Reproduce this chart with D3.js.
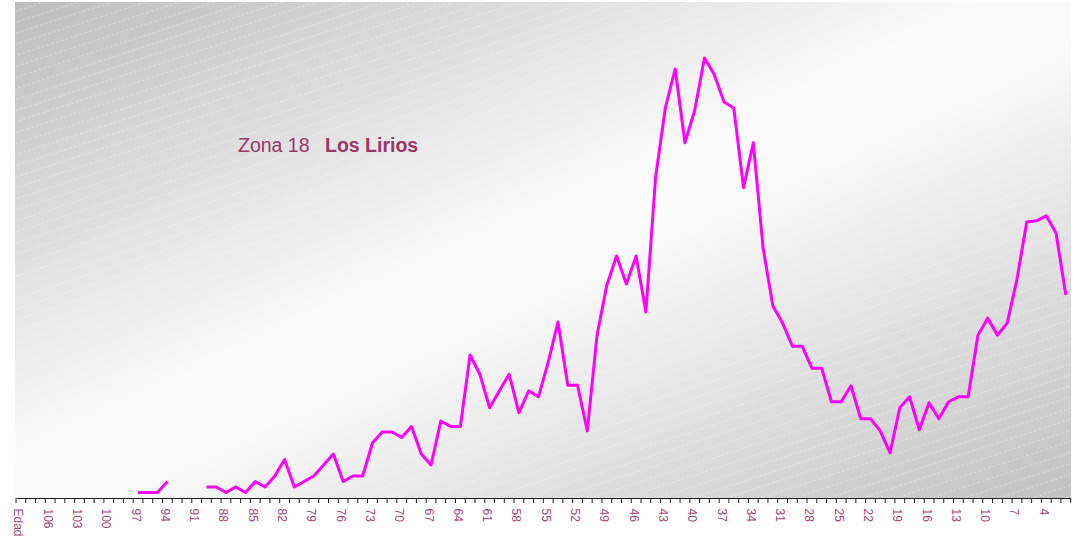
<!DOCTYPE html>
<html>
<head>
<meta charset="utf-8">
<script src="https://cdn.jsdelivr.net/npm/d3@7"></script>
<style>
  html, body { margin: 0; padding: 0; background: #ffffff; }
  svg { display: block; }
</style>
</head>
<body>
<svg id="chart" width="1086" height="543"></svg>
<script>
// ---- data ----
const titleZone = "Zona 18";
const titleName = "Los Lirios";
const firstCategory = "Edad";
const ages = [108,107,106,105,104,103,102,101,100,99,98,97,96,95,94,93,92,91,90,89,88,87,86,85,84,83,82,81,80,79,78,77,76,75,74,73,72,71,70,69,68,67,66,65,64,63,62,61,60,59,58,57,56,55,54,53,52,51,50,49,48,47,46,45,44,43,42,41,40,39,38,37,36,35,34,33,32,31,30,29,28,27,26,25,24,23,22,21,20,19,18,17,16,15,14,13,12,11,10,9,8,7,6,5,4,3,2];
const values = [null,null,null,null,null,null,null,null,null,null,null,1,1,1,3,null,null,null,2,2,1,2,1,3,2,4,7,2,3,4,6,8,3,4,4,10,12,12,11,13,8,6,14,13,13,26,22.5,16.4,19.5,22.5,15.5,19.5,18.4,24.7,32,20.5,20.5,12.2,29.6,38.7,44,38.9,44,33.8,58.4,71,78,64.6,70.5,80,77,72,70.9,56.4,64.6,45.5,34.9,31.8,27.6,27.6,23.6,23.6,17.5,17.5,20.4,14.4,14.4,12.2,8.2,16.4,18.4,12.4,17.3,14.4,17.5,18.4,18.4,29.6,32.7,29.6,31.8,39.8,50.2,50.4,51.3,48.2,36.9];
const yMax = 90;
const labelEvery = 3;

const categories = [firstCategory].concat(ages.map(String));
const series = categories.map((c, i) => ({ cat: c, v: i === 0 ? null : values[i - 1] }));

// ---- layout ----
const svg = d3.select("#chart");
const plot = { left: 15, right: 1071, top: 2, bottom: 498 };
const axisStart = 16, axisEnd = 1070.7;

const x = d3.scaleBand().domain(categories).range([axisStart, axisEnd]).padding(0);
const y = d3.scaleLinear().domain([0, yMax]).range([plot.bottom, plot.bottom - yMax * 5.5]);

const defs = svg.append("defs");
const grad = defs.append("linearGradient").attr("id", "bg")
  .attr("x1", "0").attr("y1", "0").attr("x2", "1").attr("y2", "1");
grad.append("stop").attr("offset", "0").attr("stop-color", "#bdbdbd");
grad.append("stop").attr("offset", "0.47").attr("stop-color", "#fbfbfb");
grad.append("stop").attr("offset", "0.53").attr("stop-color", "#fbfbfb");
grad.append("stop").attr("offset", "1").attr("stop-color", "#c1c1c1");

const pat = defs.append("pattern").attr("id", "hatch")
  .attr("patternUnits", "userSpaceOnUse").attr("width", 10).attr("height", 10.5)
  .attr("patternTransform", "rotate(-18)");
pat.append("line").attr("x1", 0).attr("x2", 10).attr("y1", 5).attr("y2", 5)
  .attr("stroke", "#ffffff").attr("stroke-opacity", 0.4).attr("stroke-width", 1)
  .attr("stroke-dasharray", "3,2");

svg.append("rect").attr("x", plot.left).attr("y", plot.top)
  .attr("width", plot.right - plot.left).attr("height", plot.bottom - plot.top)
  .attr("fill", "url(#bg)");
svg.append("rect").attr("x", plot.left).attr("y", plot.top)
  .attr("width", plot.right - plot.left).attr("height", plot.bottom - plot.top)
  .attr("fill", "url(#hatch)");

// ---- title ----
const title = svg.append("text").attr("x", 238).attr("y", 152)
  .attr("font-family", "Liberation Sans, Arial, sans-serif").attr("font-size", 19.5)
  .attr("fill", "#9a3668");
title.append("tspan").text(titleZone);
title.append("tspan").attr("x", 325).attr("font-weight", "bold").text(titleName);

// ---- line ----
const line = d3.line()
  .defined(d => d.v != null)
  .x(d => x(d.cat) + x.bandwidth() / 2)
  .y(d => y(d.v));
svg.append("path").datum(series)
  .attr("fill", "none").attr("stroke", "#ff00ff").attr("stroke-width", 3)
  .attr("stroke-linejoin", "round").attr("d", line);

// ---- axis ----
const axis = d3.axisBottom(x).tickSize(0).tickSizeOuter(0)
  .tickFormat((d, i) => (i % labelEvery === 0 ? d : ""));
const gx = svg.append("g").attr("transform", `translate(0,${plot.bottom})`).call(axis);
gx.select(".domain").attr("stroke", "#222").attr("stroke-width", 1.2);
gx.selectAll(".tick text")
  .attr("transform", "rotate(90)")
  .attr("x", 10.5).attr("y", 0).attr("dy", "6.5px")
  .attr("text-anchor", "start")
  .attr("font-family", "Liberation Sans, Arial, sans-serif")
  .attr("font-size", 12).attr("fill", "#a4467c");
// tick marks at band edges
const edges = categories.map(c => x(c)).concat([x.range()[1]]);
gx.selectAll(".edge").data(edges).enter().append("line")
  .attr("class", "edge")
  .attr("x1", d => d).attr("x2", d => d).attr("y1", 0).attr("y2", 5)
  .attr("stroke", "#222").attr("stroke-width", 1);
</script>
</body>
</html>
